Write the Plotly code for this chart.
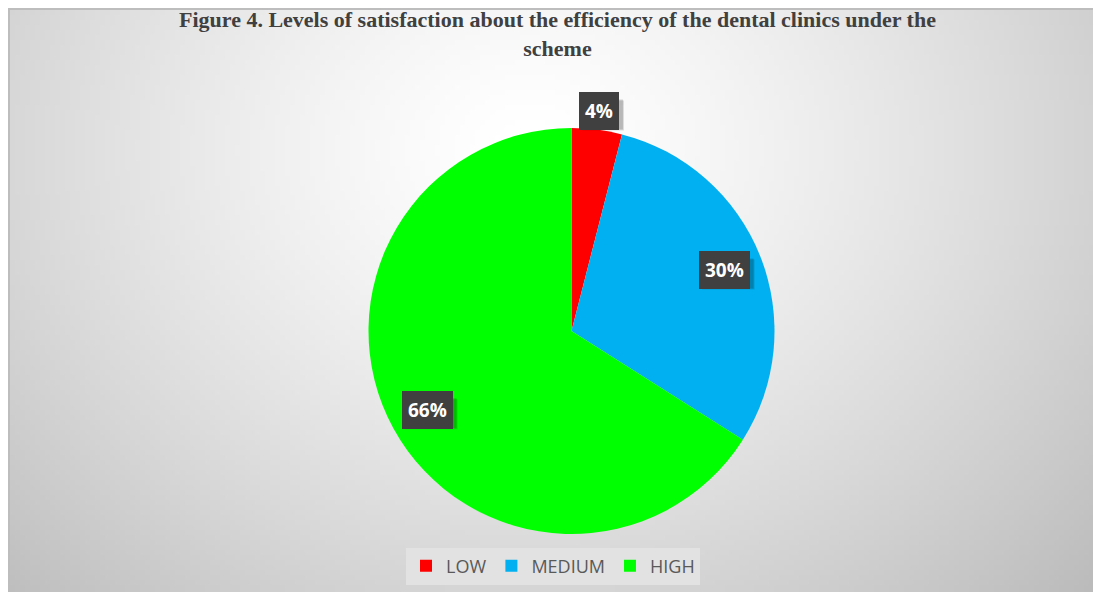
import math, zlib, struct, base64
import plotly.graph_objects as go

# ---- data ----
categories = ["LOW", "MEDIUM", "HIGH"]
values = [4, 30, 66]
label_texts = ["4%", "30%", "66%"]
colors = ["#FF0000", "#00B0F0", "#00FF00"]
title_line1 = "Figure 4. Levels of satisfaction about the efficiency of the dental clinics under the"
title_line2 = "scheme"

# page has an 8px body margin: figure pixel = screen pixel - 8
OFF = 8
FW, FH = 1101 - OFF, 592 - OFF

def px_x(sx):
    return (sx - OFF) / FW

def px_y(sy):
    return 1 - (sy - OFF) / FH

# ---- background radial gradient (styling only) ----
def make_png(w, h, f):
    rows = []
    for j in range(h):
        row = bytearray([0])
        for i in range(w):
            row.append(f(i, j))
        rows.append(bytes(row))
    raw = b"".join(rows)
    def chunk(t, d):
        c = struct.pack(">I", len(d)) + t + d
        return c + struct.pack(">I", zlib.crc32(t + d) & 0xffffffff)
    png = b"\x89PNG\r\n\x1a\n"
    png += chunk(b"IHDR", struct.pack(">IIBBBBB", w, h, 8, 0, 0, 0, 0))
    png += chunk(b"IDAT", zlib.compress(raw, 9))
    png += chunk(b"IEND", b"")
    return "data:image/png;base64," + base64.b64encode(png).decode()

gw, gh = 219, 117
def grad(i, j):
    sx = OFF + (i + 0.5) / gw * FW
    sy = OFF + (j + 0.5) / gh * FH
    d = math.hypot((sx - 530) / 590, (sy - 150) / 480)
    v = 256 - 48 * d ** 1.3
    return max(0, min(255, int(round(v))))

bg_src = make_png(gw, gh, grad)

# ---- pie geometry (screen pixels of the reference) ----
cx, cy, R = 571.5, 331, 203
dom_x = [px_x(cx - R), px_x(cx + R)]
dom_y = [px_y(cy + R), px_y(cy - R)]

fig = go.Figure()
fig.add_trace(go.Pie(
    labels=categories, values=values, sort=False, direction="clockwise",
    rotation=0, marker=dict(colors=colors, line=dict(width=0)),
    textinfo="none", hoverinfo="label+percent",
    domain=dict(x=dom_x, y=dom_y), showlegend=True,
))

LBL_SIZE = 19
annotations = []
shapes = []
total = sum(values)
cum = 0
for v, t in zip(values, label_texts):
    mid = (cum + v / 2) / total * 2 * math.pi
    cum += v
    rf = 1.09 if v / total < 0.1 else 0.81
    sx = cx + rf * R * math.sin(mid)
    sy = cy - rf * R * math.cos(mid)
    # soft drop shadow behind the label box
    bw = 0.575 * LBL_SIZE * (len(t) - 1) + 0.87 * LBL_SIZE + 14
    bh = 30
    for k, a in [(4, 0.12), (3, 0.16)]:
        shapes.append(dict(type="rect", xref="paper", yref="paper",
                           x0=px_x(sx - bw / 2 + k), x1=px_x(sx + bw / 2 + k),
                           y0=px_y(sy + bh / 2 + k), y1=px_y(sy - bh / 2 + k),
                           fillcolor="rgba(0,0,0,%.2f)" % a, line=dict(width=0), layer="above"))
    annotations.append(dict(
        x=px_x(sx), y=px_y(sy), xref="paper", yref="paper", xanchor="center", yanchor="middle",
        text="<b>" + t + "</b>", showarrow=False,
        font=dict(family="Open Sans", size=LBL_SIZE, color="#FFFFFF"),
        bgcolor="#404040", borderpad=6, borderwidth=0,
    ))

annotations.append(dict(
    x=px_x(557), y=px_y(34), xref="paper", yref="paper", xanchor="center", yanchor="middle",
    text="<b>" + title_line1 + "</b><br><b>" + title_line2 + "</b>", showarrow=False,
    font=dict(family="Liberation Serif", size=22, color="#404040"),
))

shapes.insert(0, dict(type="rect", xref="paper", yref="paper", x0=1 / FW, x1=1.01,
                      y0=-0.01, y1=1 - 1 / FH, line=dict(color="#BDBDBD", width=2), layer="below"))

fig.update_layout(
    width=FW, height=FH,
    margin=dict(l=0, r=0, t=0, b=0),
    paper_bgcolor="#FFFFFF",
    images=[dict(source=bg_src, xref="paper", yref="paper", x=0, y=1,
                 sizex=1, sizey=1, xanchor="left", yanchor="top",
                 sizing="stretch", layer="below")],
    shapes=shapes,
    annotations=annotations,
    legend=dict(orientation="h", x=px_x(553), xanchor="center", y=px_y(566), yanchor="middle",
                bgcolor="#E2E2E2", font=dict(family="Open Sans", size=18, color="#595959"),
                itemclick=False),
)

fig.write_html("out.html")
